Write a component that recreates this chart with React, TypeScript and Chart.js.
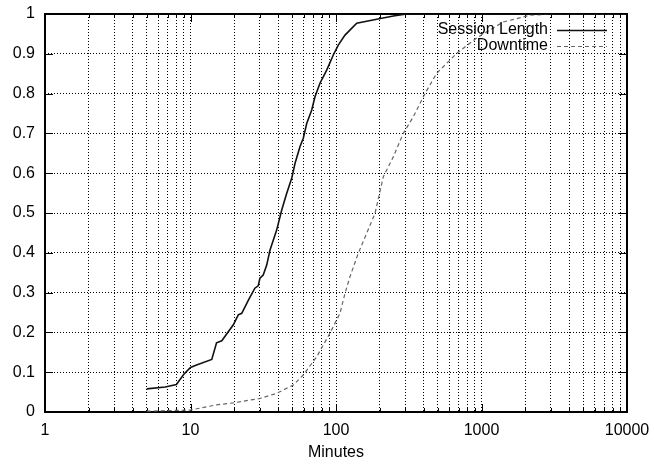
import React, { useEffect, useRef } from "react";
import { Chart, registerables } from "chart.js";

Chart.register(...registerables);

// Session Length CDF (minutes -> fraction)
const sessionMinutes = [5, 6.7, 8, 9, 10, 11, 14, 15.1, 16.4, 19.7, 21.3, 22.5, 25, 27.7, 29.2, 30, 31.6, 33.4, 35.2, 39.1, 42.4, 45.8, 49.6, 52.3, 56.6, 59.6, 62.9, 68.1, 71.7, 77.6, 86.3, 95.8, 103.7, 115.3, 138.8, 190.4, 247.7, 306, 10000];
const sessionCdf = [0.058, 0.063, 0.069, 0.095, 0.112, 0.118, 0.132, 0.174, 0.179, 0.219, 0.244, 0.248, 0.281, 0.311, 0.317, 0.336, 0.344, 0.369, 0.407, 0.457, 0.508, 0.549, 0.587, 0.625, 0.667, 0.688, 0.725, 0.759, 0.792, 0.826, 0.859, 0.897, 0.922, 0.947, 0.977, 0.987, 0.995, 1.0, 1.0];

// Downtime CDF
const downtimeMinutes = [5, 10, 15.1, 19.7, 30, 39.1, 50.9, 59.6, 73.7, 90.9, 106.5, 115.3, 124.8, 142.3, 162.5, 185.4, 211.4, 247.7, 290, 340, 409, 492, 675, 927, 1413, 2155, 3101, 10000];
const downtimeCdf = [0.002, 0.005, 0.018, 0.023, 0.034, 0.047, 0.068, 0.093, 0.139, 0.198, 0.248, 0.298, 0.34, 0.399, 0.449, 0.499, 0.591, 0.641, 0.70, 0.742, 0.80, 0.851, 0.901, 0.94, 0.98, 0.997, 1.0, 1.0];

const seriesNames = ["Session Length", "Downtime"];

const xDecades = [1, 10, 100, 1000];
const xMinorSteps = [1, 2, 3, 4, 5, 6, 7, 8, 9];
const xTickValues: number[] = [];
xDecades.forEach((d) => xMinorSteps.forEach((s) => xTickValues.push(d * s)));
xTickValues.push(10000);
const xMajorTicks = [1, 10, 100, 1000, 10000];

const yTickValues = [0, 0.1, 0.2, 0.3, 0.4, 0.5, 0.6, 0.7, 0.8, 0.9, 1];

const FONT = "'Liberation Sans', Arial, sans-serif";

const framePlugin = {
  id: "frame",
  beforeDatasetsDraw(chart: any) {
    const { ctx, chartArea, scales } = chart;
    const { left, right, top, bottom } = chartArea;
    const x = scales.x;
    const y = scales.y;
    ctx.save();
    ctx.strokeStyle = "#000";
    ctx.lineWidth = 1;
    ctx.setLineDash([]);
    ctx.beginPath();
    xTickValues.forEach((v) => {
      const px = Math.round(x.getPixelForValue(v)) + 0.5;
      const len = xMajorTicks.includes(v) ? 8 : 4;
      ctx.moveTo(px, bottom);
      ctx.lineTo(px, bottom - len);
      ctx.moveTo(px, top);
      ctx.lineTo(px, top + len);
    });
    yTickValues.forEach((v) => {
      const py = Math.round(y.getPixelForValue(v)) + 0.5;
      ctx.moveTo(left, py);
      ctx.lineTo(left + 8, py);
      ctx.moveTo(right, py);
      ctx.lineTo(right - 8, py);
    });
    ctx.stroke();
    ctx.lineWidth = 2;
    ctx.strokeRect(left, top, right - left, bottom - top);
    ctx.restore();
  },
  afterDatasetsDraw(chart: any) {
    const { ctx, chartArea } = chart;
    const { right, top } = chartArea;
    ctx.save();
    ctx.font = `16px ${FONT}`;
    ctx.fillStyle = "#000";
    ctx.textAlign = "right";
    ctx.textBaseline = "middle";
    const rows = [top + 16, top + 32];
    chart.data.datasets.forEach((ds: any, i: number) => {
      const yy = rows[i];
      ctx.fillText(ds.label, right - 79, yy);
      ctx.beginPath();
      ctx.strokeStyle = ds.borderColor;
      ctx.lineWidth = ds.borderWidth;
      ctx.setLineDash(ds.borderDash || []);
      ctx.moveTo(right - 70, yy + 0.5);
      ctx.lineTo(right - 20, yy + 0.5);
      ctx.stroke();
    });
    ctx.restore();
  },
};

export default function App() {
  const ref = useRef<HTMLCanvasElement | null>(null);

  useEffect(() => {
    if (!ref.current) return;
    Chart.defaults.font.family = FONT;
    const chart = new Chart(ref.current, {
      type: "line",
      data: {
        datasets: [
          {
            label: seriesNames[0],
            data: sessionMinutes.map((m, i) => ({ x: m, y: sessionCdf[i] })),
            borderColor: "#111",
            borderWidth: 1.6,
            pointRadius: 0,
            tension: 0,
            fill: false,
          },
          {
            label: seriesNames[1],
            data: downtimeMinutes.map((m, i) => ({ x: m, y: downtimeCdf[i] })),
            borderColor: "#666",
            borderWidth: 1.2,
            borderDash: [4, 3],
            pointRadius: 0,
            tension: 0,
            fill: false,
          },
        ],
      },
      options: {
        responsive: false,
        animation: false,
        layout: { padding: { top: 14, right: 27, left: 0, bottom: 0 } },
        plugins: {
          legend: { display: false },
          tooltip: { enabled: false },
        },
        scales: {
          x: {
            type: "logarithmic",
            min: 1,
            max: 10000,
            afterBuildTicks: (scale: any) => {
              scale.ticks = xTickValues.map((v) => ({ value: v }));
            },
            afterFit: (scale: any) => {
              scale.height = 56;
              scale.paddingLeft = 0;
              scale.paddingRight = 0;
            },
            grid: { color: "#000", lineWidth: 1, drawTicks: false },
            border: { display: false, dash: [1, 2] },
            ticks: {
              autoSkip: false,
              maxRotation: 0,
              padding: 9,
              color: "#000",
              font: { size: 16 },
              callback: (v: any) => (xMajorTicks.includes(Number(v)) ? String(v) : ""),
            },
            title: {
              display: true,
              text: "Minutes",
              color: "#000",
              font: { size: 16 },
              padding: { top: 0, bottom: 6 },
            },
          },
          y: {
            type: "linear",
            min: 0,
            max: 1,
            afterBuildTicks: (scale: any) => {
              scale.ticks = yTickValues.map((v) => ({ value: v }));
            },
            afterFit: (scale: any) => {
              scale.width = 45;
              scale.paddingTop = 0;
              scale.paddingBottom = 0;
            },
            grid: { color: "#000", lineWidth: 1, drawTicks: false },
            border: { display: false, dash: [1, 2] },
            ticks: {
              padding: 10,
              color: "#000",
              font: { size: 16 },
              callback: (v: any) => String(Number(Number(v).toFixed(1))),
            },
          },
        },
      },
      plugins: [framePlugin],
    } as any);
    return () => chart.destroy();
  }, []);

  return (
    <div style={{ position: "absolute", left: 0, top: 0, width: 654, height: 468, background: "#fff" }}>
      <canvas ref={ref} width={654} height={468} />
    </div>
  );
}
